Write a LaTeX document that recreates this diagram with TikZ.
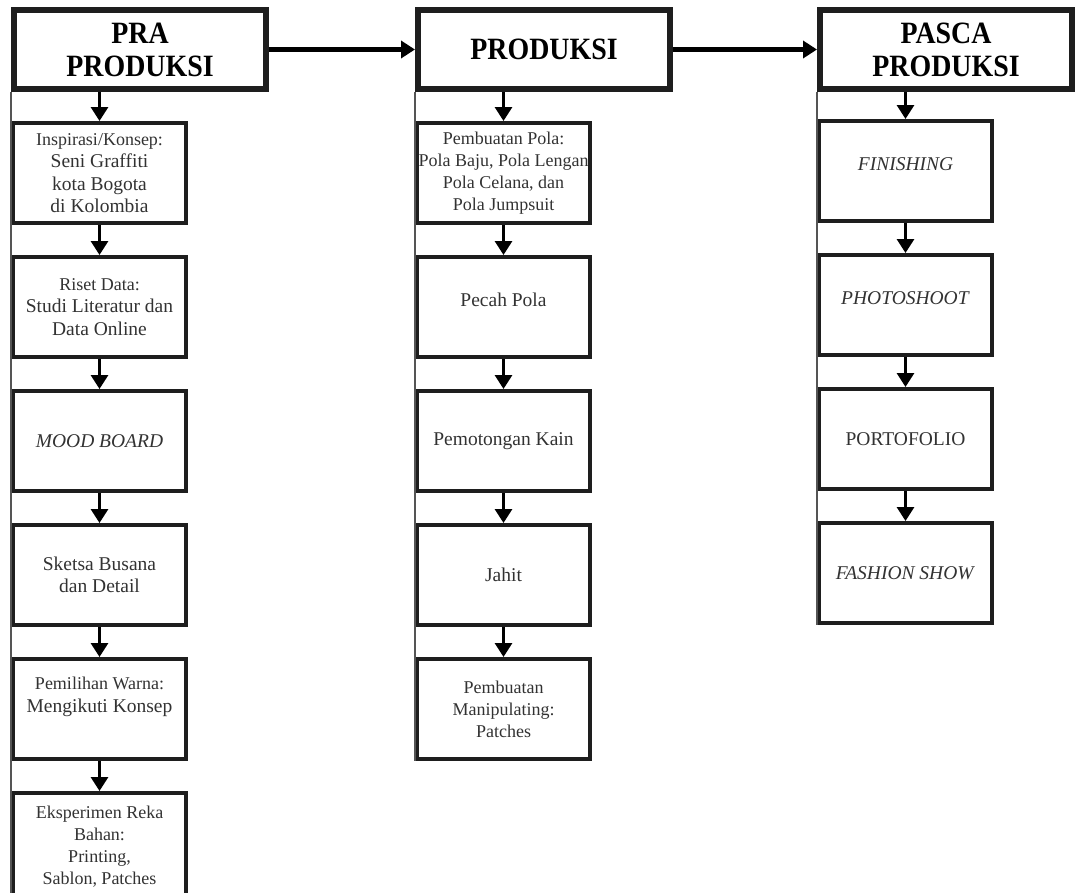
\documentclass[tikz,border=0pt]{standalone}
\usepackage{fontspec}
\setmainfont{Liberation Serif}
\newfontfamily\headfont[FakeStretch=0.9]{Liberation Serif}
\usetikzlibrary{arrows.meta, positioning}
\definecolor{dgray}{RGB}{30,30,30}
\definecolor{tgray}{RGB}{50,50,50}
\definecolor{lgray}{RGB}{85,85,85}
\newcommand{\subfnt}{\fontsize{18}{22}\selectfont}

\begin{document}
\begin{tikzpicture}[x=1pt, y=-1pt, node distance=30pt,
  head/.style={draw=dgray, line width=6pt, minimum width=252pt,
               minimum height=79pt, inner sep=0pt, align=center,
               font=\headfont\bfseries\fontsize{31}{33}\selectfont},
  box/.style={draw=dgray, line width=4pt, minimum width=173pt,
              minimum height=100pt, inner sep=0pt, align=center,
              text=tgray, font=\fontsize{19.5}{22.5}\selectfont},
  arr/.style={-{Triangle[length=14pt, width=17pt]}, line width=3pt},
  harr/.style={-{Triangle[length=14pt, width=17pt]}, line width=5pt},
  rail/.style={draw=lgray, line width=2pt}]
  \useasboundingbox (0,0) rectangle (1075,892);

  % headers
  \node[head] (pra)   at (140,49.5) {PRA\\PRODUKSI};
  \node[head] (prod)  at (544,49.5) {PRODUKSI};
  \node[head] (pasca) at (946,49.5) {PASCA\\PRODUKSI};

  % pra produksi
  \node[box, below right=29pt and 0pt of pra.south west] (ins)
    {{\subfnt Inspirasi/Konsep:}\\Seni Graffiti\\kota Bogota\\di Kolombia};
  \node[box, below=of ins] (ris)
    {{\subfnt Riset Data:}\\Studi Literatur dan\\Data Online};
  \node[box, below=of ris] (mood) {\textit{MOOD BOARD}};
  \node[box, below=of mood] (sketsa) {Sketsa Busana\\dan Detail};
  \node[box, below=of sketsa] (warna)
    {{\subfnt Pemilihan Warna:}\\Mengikuti Konsep\\[6pt]\mbox{}};
  \node[box, below=of warna, font=\subfnt, minimum height=108pt] (eksp)
    {Eksperimen Reka\\Bahan:\\Printing,\\Sablon, Patches};

  % produksi
  \node[box, below right=29pt and 0pt of prod.south west, font=\subfnt] (pola)
    {Pembuatan Pola:\\Pola Baju, Pola Lengan\\Pola Celana, dan\\Pola Jumpsuit};
  \node[box, below=of pola] (pecah) {Pecah Pola\\[-8pt]\mbox{}};
  \node[box, below=of pecah] (potong) {Pemotongan Kain};
  \node[box, below=of potong] (jahit) {Jahit};
  \node[box, below=of jahit, font=\subfnt] (manip)
    {Pembuatan\\Manipulating:\\Patches};

  % pasca produksi
  \node[box, below right=27pt and 0pt of pasca.south west] (fin)
    {\textit{FINISHING}\\[-8pt]\mbox{}};
  \node[box, below=of fin] (photo) {\textit{PHOTOSHOOT}\\[-8pt]\mbox{}};
  \node[box, below=of photo] (porto) {PORTOFOLIO};
  \node[box, below=of porto] (fshow) {\textit{FASHION SHOW}};

  % rails
  \draw[rail] (pra.south west) -- (eksp.south west);
  \draw[rail] (prod.south west) -- (manip.south west);
  \draw[rail] (pasca.south west) -- (fshow.south west);

  % arrows
  \draw[harr] (pra.east) -- (prod.west);
  \draw[harr] (prod.east) -- (pasca.west);
  \draw[arr] (pra.south -| ins.north) -- (ins.north);
  \draw[arr] (ins) -- (ris);
  \draw[arr] (ris) -- (mood);
  \draw[arr] (mood) -- (sketsa);
  \draw[arr] (sketsa) -- (warna);
  \draw[arr] (warna) -- (eksp);
  \draw[arr] (prod.south -| pola.north) -- (pola.north);
  \draw[arr] (pola) -- (pecah);
  \draw[arr] (pecah) -- (potong);
  \draw[arr] (potong) -- (jahit);
  \draw[arr] (jahit) -- (manip);
  \draw[arr] (pasca.south -| fin.north) -- (fin.north);
  \draw[arr] (fin) -- (photo);
  \draw[arr] (photo) -- (porto);
  \draw[arr] (porto) -- (fshow);
\end{tikzpicture}
\end{document}
